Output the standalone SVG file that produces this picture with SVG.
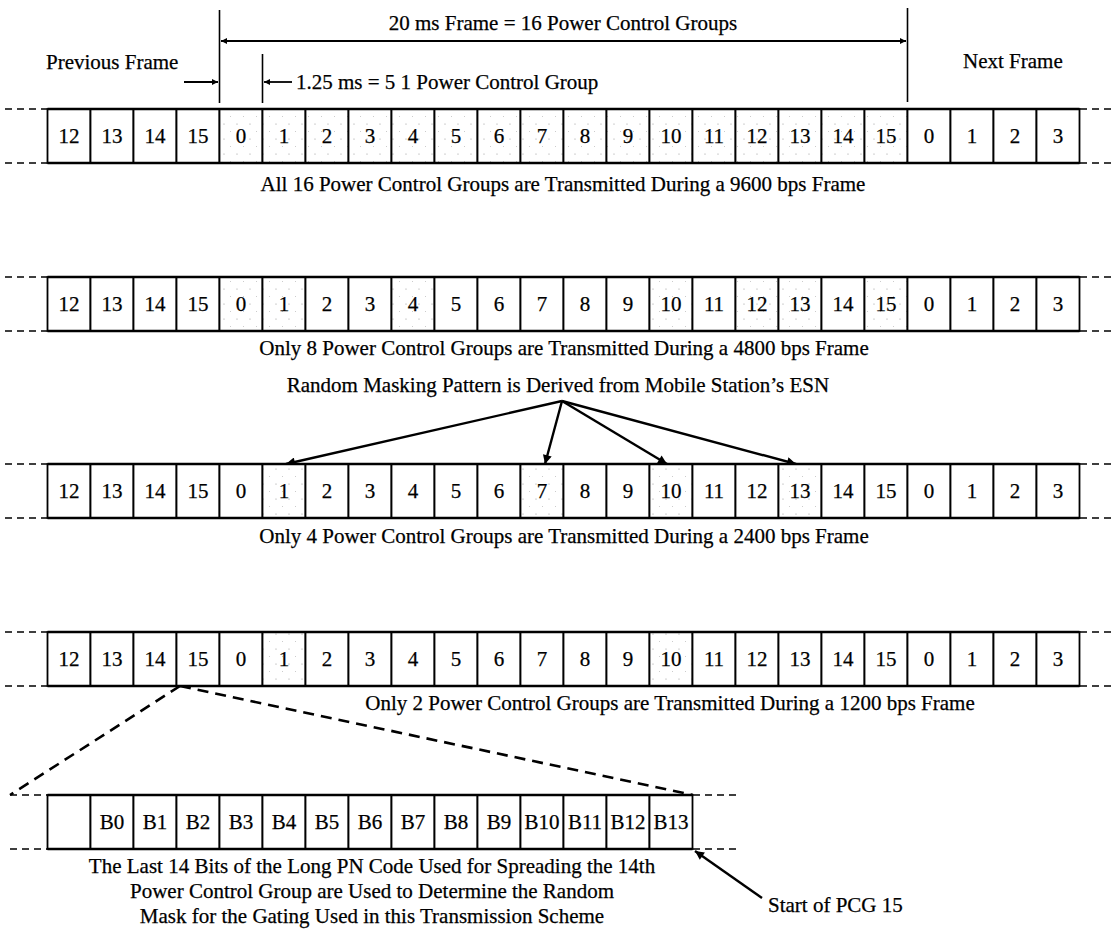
<svg xmlns="http://www.w3.org/2000/svg" width="1115" height="936" viewBox="0 0 1115 936">
<style>
text{font-family:"Liberation Serif","Times New Roman",serif;font-size:21px;fill:#000;stroke:#000;stroke-width:0.25}
.n{text-anchor:middle}
.c{fill:#fff;stroke:#000;stroke-width:1.8}
.s{fill:url(#stip);stroke:#000;stroke-width:1.8}
.hl{stroke:#000;stroke-width:2.4;fill:none}
.dx{stroke:#000;stroke-width:1.5;stroke-dasharray:7 5;fill:none}
.big{stroke:#000;stroke-width:2.6;stroke-dasharray:11 7;fill:none}
.ln{stroke:#000;stroke-width:1.6;fill:none}
.ar{stroke:#000;stroke-width:2.4;fill:none;marker-end:url(#ah)}
</style>
<defs>
<marker id="ah" viewBox="0 0 10 10" refX="10" refY="5" markerWidth="14" markerHeight="9" markerUnits="userSpaceOnUse" orient="auto"><path d="M0,0 L10,5 L0,10 z" fill="#000"/></marker>
<marker id="as" viewBox="0 0 10 10" refX="10" refY="5" markerWidth="10" markerHeight="6" markerUnits="userSpaceOnUse" orient="auto"><path d="M0,0 L10,5 L0,10 z" fill="#000"/></marker>
<pattern id="stip" width="13" height="15" patternUnits="userSpaceOnUse"><rect width="13" height="15" fill="#fff"/><circle cx="3" cy="4" r="0.6" fill="#999"/><circle cx="9.5" cy="11.5" r="0.5" fill="#bbb"/></pattern>
</defs>
<rect width="1115" height="936" fill="#fff"/>

<g id="labels">
<text class="n" x="563" y="30">20 ms Frame = 16 Power Control Groups</text>
<text x="46" y="69">Previous Frame</text>
<text x="963" y="68">Next Frame</text>
<text x="296" y="89">1.25 ms = 5 1 Power Control Group</text>
<text class="n" x="563" y="191">All 16 Power Control Groups are Transmitted During a 9600 bps Frame</text>
<text class="n" x="564" y="355">Only 8 Power Control Groups are Transmitted During a 4800 bps Frame</text>
<text class="n" x="558" y="392">Random Masking Pattern is Derived from Mobile Station’s ESN</text>
<text class="n" x="564" y="543">Only 4 Power Control Groups are Transmitted During a 2400 bps Frame</text>
<text class="n" x="670" y="710">Only 2 Power Control Groups are Transmitted During a 1200 bps Frame</text>
<text class="n" x="372" y="873">The Last 14 Bits of the Long PN Code Used for Spreading the 14th</text>
<text class="n" x="372" y="898">Power Control Group are Used to Determine the Random</text>
<text class="n" x="372" y="923">Mask for the Gating Used in this Transmission Scheme</text>
<text x="768" y="912">Start of PCG 15</text>
</g>

<g id="connectors">
<line class="ln" x1="219.5" y1="10" x2="219.5" y2="103"/>
<line class="ln" x1="907.5" y1="8" x2="907.5" y2="102"/>
<line class="ln" x1="262.5" y1="54" x2="262.5" y2="103"/>
<line x1="560" y1="41" x2="221" y2="41" stroke="#000" stroke-width="1.8" marker-end="url(#as)"/>
<line x1="560" y1="41" x2="906" y2="41" stroke="#000" stroke-width="1.8" marker-end="url(#as)"/>
<line x1="184" y1="82" x2="218" y2="82" stroke="#000" stroke-width="1.8" marker-end="url(#as)"/>
<line x1="292" y1="82" x2="264" y2="82" stroke="#000" stroke-width="1.8" marker-end="url(#as)"/>
<line class="ar" x1="562" y1="401" x2="286" y2="464"/>
<line class="ar" x1="562" y1="401" x2="545" y2="464"/>
<line class="ar" x1="562" y1="401" x2="667" y2="464"/>
<line class="ar" x1="562" y1="401" x2="796" y2="464"/>
<line class="big" x1="180" y1="686" x2="10" y2="795"/>
<line class="big" x1="180" y1="686" x2="693" y2="795"/>
<line class="ar" x1="762" y1="898" x2="695" y2="851"/>
<path class="dx" d="M5,109 H47 M5,163 H47 M1080,109 H1112 M1080,163 H1112"/>
<path class="dx" d="M5,277 H47 M5,331 H47 M1080,277 H1112 M1080,331 H1112"/>
<path class="dx" d="M5,464 H47 M5,518 H47 M1080,464 H1112 M1080,518 H1112"/>
<path class="dx" d="M5,632 H47 M5,686 H47 M1080,632 H1112 M1080,686 H1112"/>
<path class="dx" d="M10,795 H47 M10,849 H47 M693,795 H737 M693,849 H737"/>
</g>

<g id="row1">
<g id="r1c0"><rect class="c" x="47.5" y="109" width="43" height="54"/><text class="n" x="69" y="143">12</text></g>
<g id="r1c1"><rect class="c" x="90.5" y="109" width="43" height="54"/><text class="n" x="112" y="143">13</text></g>
<g id="r1c2"><rect class="c" x="133.5" y="109" width="43" height="54"/><text class="n" x="155" y="143">14</text></g>
<g id="r1c3"><rect class="c" x="176.5" y="109" width="43" height="54"/><text class="n" x="198" y="143">15</text></g>
<g id="r1c4"><rect class="s" x="219.5" y="109" width="43" height="54"/><text class="n" x="241" y="143">0</text></g>
<g id="r1c5"><rect class="s" x="262.5" y="109" width="43" height="54"/><text class="n" x="284" y="143">1</text></g>
<g id="r1c6"><rect class="s" x="305.5" y="109" width="43" height="54"/><text class="n" x="327" y="143">2</text></g>
<g id="r1c7"><rect class="s" x="348.5" y="109" width="43" height="54"/><text class="n" x="370" y="143">3</text></g>
<g id="r1c8"><rect class="s" x="391.5" y="109" width="43" height="54"/><text class="n" x="413" y="143">4</text></g>
<g id="r1c9"><rect class="s" x="434.5" y="109" width="43" height="54"/><text class="n" x="456" y="143">5</text></g>
<g id="r1c10"><rect class="s" x="477.5" y="109" width="43" height="54"/><text class="n" x="499" y="143">6</text></g>
<g id="r1c11"><rect class="s" x="520.5" y="109" width="43" height="54"/><text class="n" x="542" y="143">7</text></g>
<g id="r1c12"><rect class="s" x="563.5" y="109" width="43" height="54"/><text class="n" x="585" y="143">8</text></g>
<g id="r1c13"><rect class="s" x="606.5" y="109" width="43" height="54"/><text class="n" x="628" y="143">9</text></g>
<g id="r1c14"><rect class="s" x="649.5" y="109" width="43" height="54"/><text class="n" x="671" y="143">10</text></g>
<g id="r1c15"><rect class="s" x="692.5" y="109" width="43" height="54"/><text class="n" x="714" y="143">11</text></g>
<g id="r1c16"><rect class="s" x="735.5" y="109" width="43" height="54"/><text class="n" x="757" y="143">12</text></g>
<g id="r1c17"><rect class="s" x="778.5" y="109" width="43" height="54"/><text class="n" x="800" y="143">13</text></g>
<g id="r1c18"><rect class="s" x="821.5" y="109" width="43" height="54"/><text class="n" x="843" y="143">14</text></g>
<g id="r1c19"><rect class="s" x="864.5" y="109" width="43" height="54"/><text class="n" x="886" y="143">15</text></g>
<g id="r1c20"><rect class="c" x="907.5" y="109" width="43" height="54"/><text class="n" x="929" y="143">0</text></g>
<g id="r1c21"><rect class="c" x="950.5" y="109" width="43" height="54"/><text class="n" x="972" y="143">1</text></g>
<g id="r1c22"><rect class="c" x="993.5" y="109" width="43" height="54"/><text class="n" x="1015" y="143">2</text></g>
<g id="r1c23"><rect class="c" x="1036.5" y="109" width="43" height="54"/><text class="n" x="1058" y="143">3</text></g>
<path class="hl" d="M47.5,109 H1079.5 M47.5,163 H1079.5"/>
</g>

<g id="row2">
<g id="r2c0"><rect class="c" x="47.5" y="277" width="43" height="54"/><text class="n" x="69" y="311">12</text></g>
<g id="r2c1"><rect class="c" x="90.5" y="277" width="43" height="54"/><text class="n" x="112" y="311">13</text></g>
<g id="r2c2"><rect class="c" x="133.5" y="277" width="43" height="54"/><text class="n" x="155" y="311">14</text></g>
<g id="r2c3"><rect class="c" x="176.5" y="277" width="43" height="54"/><text class="n" x="198" y="311">15</text></g>
<g id="r2c4"><rect class="s" x="219.5" y="277" width="43" height="54"/><text class="n" x="241" y="311">0</text></g>
<g id="r2c5"><rect class="s" x="262.5" y="277" width="43" height="54"/><text class="n" x="284" y="311">1</text></g>
<g id="r2c6"><rect class="c" x="305.5" y="277" width="43" height="54"/><text class="n" x="327" y="311">2</text></g>
<g id="r2c7"><rect class="c" x="348.5" y="277" width="43" height="54"/><text class="n" x="370" y="311">3</text></g>
<g id="r2c8"><rect class="s" x="391.5" y="277" width="43" height="54"/><text class="n" x="413" y="311">4</text></g>
<g id="r2c9"><rect class="c" x="434.5" y="277" width="43" height="54"/><text class="n" x="456" y="311">5</text></g>
<g id="r2c10"><rect class="c" x="477.5" y="277" width="43" height="54"/><text class="n" x="499" y="311">6</text></g>
<g id="r2c11"><rect class="c" x="520.5" y="277" width="43" height="54"/><text class="n" x="542" y="311">7</text></g>
<g id="r2c12"><rect class="c" x="563.5" y="277" width="43" height="54"/><text class="n" x="585" y="311">8</text></g>
<g id="r2c13"><rect class="c" x="606.5" y="277" width="43" height="54"/><text class="n" x="628" y="311">9</text></g>
<g id="r2c14"><rect class="s" x="649.5" y="277" width="43" height="54"/><text class="n" x="671" y="311">10</text></g>
<g id="r2c15"><rect class="c" x="692.5" y="277" width="43" height="54"/><text class="n" x="714" y="311">11</text></g>
<g id="r2c16"><rect class="s" x="735.5" y="277" width="43" height="54"/><text class="n" x="757" y="311">12</text></g>
<g id="r2c17"><rect class="s" x="778.5" y="277" width="43" height="54"/><text class="n" x="800" y="311">13</text></g>
<g id="r2c18"><rect class="c" x="821.5" y="277" width="43" height="54"/><text class="n" x="843" y="311">14</text></g>
<g id="r2c19"><rect class="s" x="864.5" y="277" width="43" height="54"/><text class="n" x="886" y="311">15</text></g>
<g id="r2c20"><rect class="c" x="907.5" y="277" width="43" height="54"/><text class="n" x="929" y="311">0</text></g>
<g id="r2c21"><rect class="c" x="950.5" y="277" width="43" height="54"/><text class="n" x="972" y="311">1</text></g>
<g id="r2c22"><rect class="c" x="993.5" y="277" width="43" height="54"/><text class="n" x="1015" y="311">2</text></g>
<g id="r2c23"><rect class="c" x="1036.5" y="277" width="43" height="54"/><text class="n" x="1058" y="311">3</text></g>
<path class="hl" d="M47.5,277 H1079.5 M47.5,331 H1079.5"/>
</g>

<g id="row3">
<g id="r3c0"><rect class="c" x="47.5" y="464" width="43" height="54"/><text class="n" x="69" y="498">12</text></g>
<g id="r3c1"><rect class="c" x="90.5" y="464" width="43" height="54"/><text class="n" x="112" y="498">13</text></g>
<g id="r3c2"><rect class="c" x="133.5" y="464" width="43" height="54"/><text class="n" x="155" y="498">14</text></g>
<g id="r3c3"><rect class="c" x="176.5" y="464" width="43" height="54"/><text class="n" x="198" y="498">15</text></g>
<g id="r3c4"><rect class="c" x="219.5" y="464" width="43" height="54"/><text class="n" x="241" y="498">0</text></g>
<g id="r3c5"><rect class="s" x="262.5" y="464" width="43" height="54"/><text class="n" x="284" y="498">1</text></g>
<g id="r3c6"><rect class="c" x="305.5" y="464" width="43" height="54"/><text class="n" x="327" y="498">2</text></g>
<g id="r3c7"><rect class="c" x="348.5" y="464" width="43" height="54"/><text class="n" x="370" y="498">3</text></g>
<g id="r3c8"><rect class="c" x="391.5" y="464" width="43" height="54"/><text class="n" x="413" y="498">4</text></g>
<g id="r3c9"><rect class="c" x="434.5" y="464" width="43" height="54"/><text class="n" x="456" y="498">5</text></g>
<g id="r3c10"><rect class="c" x="477.5" y="464" width="43" height="54"/><text class="n" x="499" y="498">6</text></g>
<g id="r3c11"><rect class="s" x="520.5" y="464" width="43" height="54"/><text class="n" x="542" y="498">7</text></g>
<g id="r3c12"><rect class="c" x="563.5" y="464" width="43" height="54"/><text class="n" x="585" y="498">8</text></g>
<g id="r3c13"><rect class="c" x="606.5" y="464" width="43" height="54"/><text class="n" x="628" y="498">9</text></g>
<g id="r3c14"><rect class="s" x="649.5" y="464" width="43" height="54"/><text class="n" x="671" y="498">10</text></g>
<g id="r3c15"><rect class="c" x="692.5" y="464" width="43" height="54"/><text class="n" x="714" y="498">11</text></g>
<g id="r3c16"><rect class="c" x="735.5" y="464" width="43" height="54"/><text class="n" x="757" y="498">12</text></g>
<g id="r3c17"><rect class="s" x="778.5" y="464" width="43" height="54"/><text class="n" x="800" y="498">13</text></g>
<g id="r3c18"><rect class="c" x="821.5" y="464" width="43" height="54"/><text class="n" x="843" y="498">14</text></g>
<g id="r3c19"><rect class="c" x="864.5" y="464" width="43" height="54"/><text class="n" x="886" y="498">15</text></g>
<g id="r3c20"><rect class="c" x="907.5" y="464" width="43" height="54"/><text class="n" x="929" y="498">0</text></g>
<g id="r3c21"><rect class="c" x="950.5" y="464" width="43" height="54"/><text class="n" x="972" y="498">1</text></g>
<g id="r3c22"><rect class="c" x="993.5" y="464" width="43" height="54"/><text class="n" x="1015" y="498">2</text></g>
<g id="r3c23"><rect class="c" x="1036.5" y="464" width="43" height="54"/><text class="n" x="1058" y="498">3</text></g>
<path class="hl" d="M47.5,464 H1079.5 M47.5,518 H1079.5"/>
</g>

<g id="row4">
<g id="r4c0"><rect class="c" x="47.5" y="632" width="43" height="54"/><text class="n" x="69" y="666">12</text></g>
<g id="r4c1"><rect class="c" x="90.5" y="632" width="43" height="54"/><text class="n" x="112" y="666">13</text></g>
<g id="r4c2"><rect class="c" x="133.5" y="632" width="43" height="54"/><text class="n" x="155" y="666">14</text></g>
<g id="r4c3"><rect class="c" x="176.5" y="632" width="43" height="54"/><text class="n" x="198" y="666">15</text></g>
<g id="r4c4"><rect class="c" x="219.5" y="632" width="43" height="54"/><text class="n" x="241" y="666">0</text></g>
<g id="r4c5"><rect class="s" x="262.5" y="632" width="43" height="54"/><text class="n" x="284" y="666">1</text></g>
<g id="r4c6"><rect class="c" x="305.5" y="632" width="43" height="54"/><text class="n" x="327" y="666">2</text></g>
<g id="r4c7"><rect class="c" x="348.5" y="632" width="43" height="54"/><text class="n" x="370" y="666">3</text></g>
<g id="r4c8"><rect class="c" x="391.5" y="632" width="43" height="54"/><text class="n" x="413" y="666">4</text></g>
<g id="r4c9"><rect class="c" x="434.5" y="632" width="43" height="54"/><text class="n" x="456" y="666">5</text></g>
<g id="r4c10"><rect class="c" x="477.5" y="632" width="43" height="54"/><text class="n" x="499" y="666">6</text></g>
<g id="r4c11"><rect class="c" x="520.5" y="632" width="43" height="54"/><text class="n" x="542" y="666">7</text></g>
<g id="r4c12"><rect class="c" x="563.5" y="632" width="43" height="54"/><text class="n" x="585" y="666">8</text></g>
<g id="r4c13"><rect class="c" x="606.5" y="632" width="43" height="54"/><text class="n" x="628" y="666">9</text></g>
<g id="r4c14"><rect class="s" x="649.5" y="632" width="43" height="54"/><text class="n" x="671" y="666">10</text></g>
<g id="r4c15"><rect class="c" x="692.5" y="632" width="43" height="54"/><text class="n" x="714" y="666">11</text></g>
<g id="r4c16"><rect class="c" x="735.5" y="632" width="43" height="54"/><text class="n" x="757" y="666">12</text></g>
<g id="r4c17"><rect class="c" x="778.5" y="632" width="43" height="54"/><text class="n" x="800" y="666">13</text></g>
<g id="r4c18"><rect class="c" x="821.5" y="632" width="43" height="54"/><text class="n" x="843" y="666">14</text></g>
<g id="r4c19"><rect class="c" x="864.5" y="632" width="43" height="54"/><text class="n" x="886" y="666">15</text></g>
<g id="r4c20"><rect class="c" x="907.5" y="632" width="43" height="54"/><text class="n" x="929" y="666">0</text></g>
<g id="r4c21"><rect class="c" x="950.5" y="632" width="43" height="54"/><text class="n" x="972" y="666">1</text></g>
<g id="r4c22"><rect class="c" x="993.5" y="632" width="43" height="54"/><text class="n" x="1015" y="666">2</text></g>
<g id="r4c23"><rect class="c" x="1036.5" y="632" width="43" height="54"/><text class="n" x="1058" y="666">3</text></g>
<path class="hl" d="M47.5,632 H1079.5 M47.5,686 H1079.5"/>
</g>

<g id="row5">
<g id="b_blank"><rect class="c" x="47.5" y="795" width="43" height="54"/></g>
<g id="b0"><rect class="c" x="90.5" y="795" width="43" height="54"/><text class="n" x="112" y="829">B0</text></g>
<g id="b1"><rect class="c" x="133.5" y="795" width="43" height="54"/><text class="n" x="155" y="829">B1</text></g>
<g id="b2"><rect class="c" x="176.5" y="795" width="43" height="54"/><text class="n" x="198" y="829">B2</text></g>
<g id="b3"><rect class="c" x="219.5" y="795" width="43" height="54"/><text class="n" x="241" y="829">B3</text></g>
<g id="b4"><rect class="c" x="262.5" y="795" width="43" height="54"/><text class="n" x="284" y="829">B4</text></g>
<g id="b5"><rect class="c" x="305.5" y="795" width="43" height="54"/><text class="n" x="327" y="829">B5</text></g>
<g id="b6"><rect class="c" x="348.5" y="795" width="43" height="54"/><text class="n" x="370" y="829">B6</text></g>
<g id="b7"><rect class="c" x="391.5" y="795" width="43" height="54"/><text class="n" x="413" y="829">B7</text></g>
<g id="b8"><rect class="c" x="434.5" y="795" width="43" height="54"/><text class="n" x="456" y="829">B8</text></g>
<g id="b9"><rect class="c" x="477.5" y="795" width="43" height="54"/><text class="n" x="499" y="829">B9</text></g>
<g id="b10"><rect class="c" x="520.5" y="795" width="43" height="54"/><text class="n" x="542" y="829">B10</text></g>
<g id="b11"><rect class="c" x="563.5" y="795" width="43" height="54"/><text class="n" x="585" y="829">B11</text></g>
<g id="b12"><rect class="c" x="606.5" y="795" width="43" height="54"/><text class="n" x="628" y="829">B12</text></g>
<g id="b13"><rect class="c" x="649.5" y="795" width="43" height="54"/><text class="n" x="671" y="829">B13</text></g>
<path class="hl" d="M47.5,795 H692.5 M47.5,849 H692.5"/>
</g>
</svg>
